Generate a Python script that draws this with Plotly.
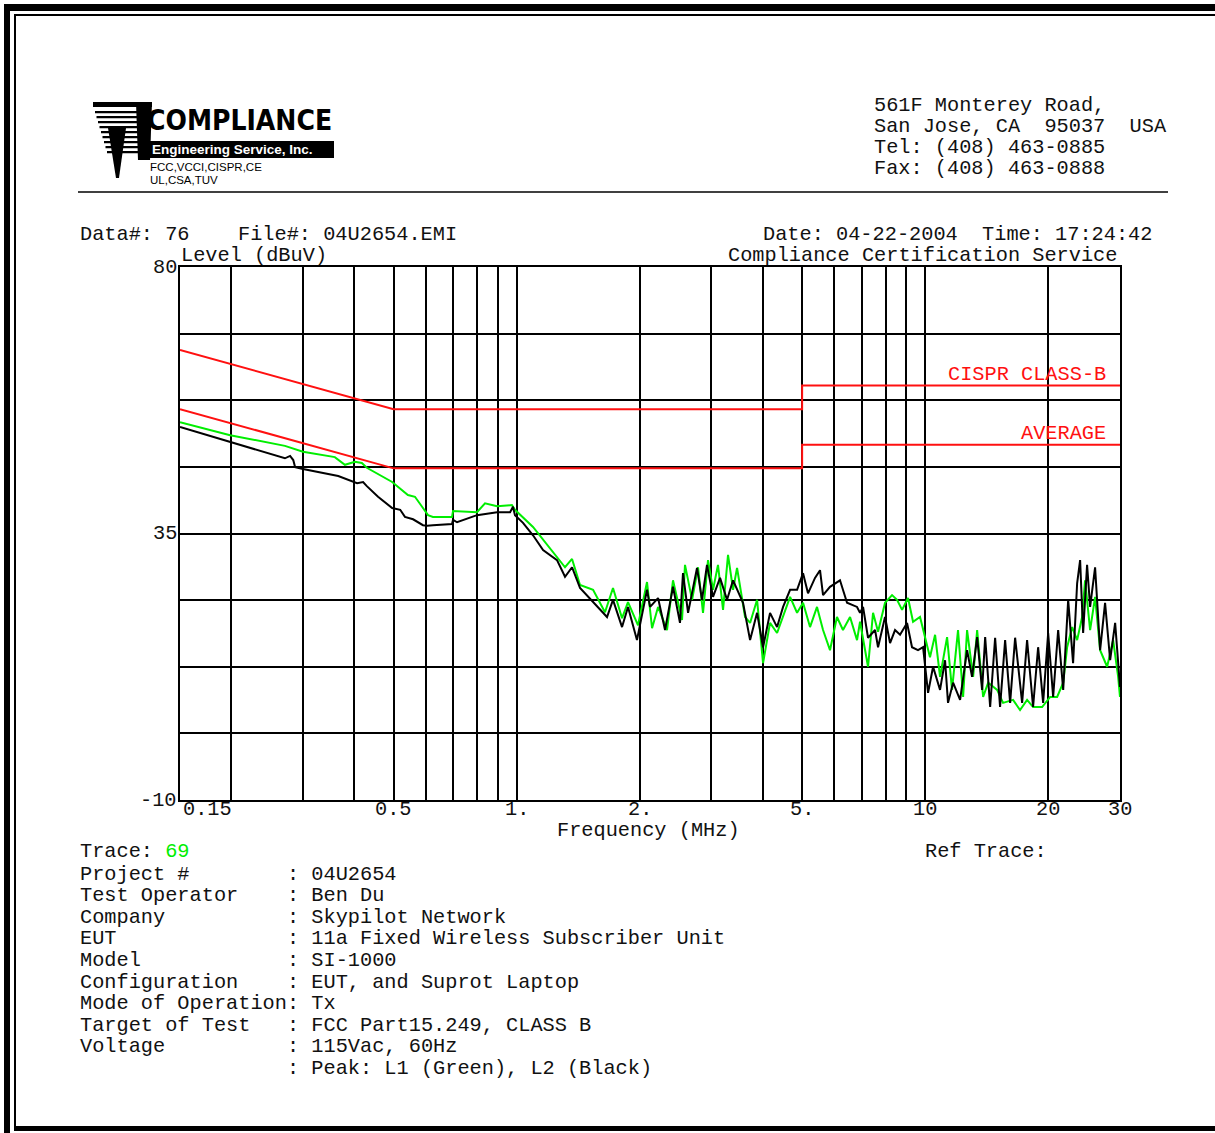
import math
import plotly.graph_objects as go

# ---------------- data ----------------
# L1 (green) peak trace: frequency (MHz) and level (dBuV)
l1_freq = [0.150, 0.199, 0.271, 0.300, 0.359, 0.380, 0.402, 0.418, 0.430, 0.496,
           0.542, 0.564, 0.590, 0.607, 0.624, 0.695, 0.699, 0.800, 0.837, 0.896,
           0.974, 0.991, 1.097, 1.161, 1.314, 1.367, 1.430, 1.539, 1.646, 1.722,
           1.812, 1.874, 1.983, 2.086, 2.146, 2.220, 2.335, 2.415, 2.541, 2.584,
           2.689, 2.781, 2.860, 2.942, 3.026, 3.112, 3.202, 3.293, 3.388, 3.465,
           3.625, 3.729, 3.879, 4.012, 4.173, 4.342, 4.672, 4.860, 5.026, 5.228,
           5.438, 5.626, 5.851, 6.085, 6.295, 6.551, 6.814, 6.930, 7.250, 7.458,
           7.671, 7.979, 8.301, 8.538, 8.783, 9.083, 9.344, 9.719, 10.00, 10.28,
           10.58, 10.88, 11.32, 11.64, 12.04, 12.39, 12.67, 13.11, 13.41, 13.87,
           14.27, 15.01, 15.52, 16.42, 17.08, 17.77, 18.38, 19.34, 20.24, 21.05,
           21.78, 22.27, 22.91, 23.56, 24.23, 24.64, 25.35, 26.07, 26.82, 27.90,
           28.86, 29.69, 30.00]
l1_level = [53.8, 51.6, 49.8, 48.8, 47.9, 46.6, 47.1, 46.9, 46.1, 43.7,
            41.5, 41.2, 39.3, 38.1, 37.8, 37.8, 38.8, 38.6, 40.1, 39.6,
            39.8, 39.0, 36.1, 33.9, 29.3, 30.7, 26.3, 25.5, 21.7, 25.8,
            20.7, 23.4, 19.5, 26.8, 19.0, 22.6, 18.7, 27.1, 20.4, 29.7,
            23.8, 29.3, 21.6, 30.5, 25.5, 29.7, 22.1, 31.4, 25.5, 29.2,
            20.9, 19.9, 23.8, 13.1, 19.9, 18.2, 24.3, 21.6, 23.3, 19.2,
            22.6, 18.7, 15.3, 20.9, 18.7, 20.9, 17.0, 20.1, 12.5, 21.6,
            18.4, 23.3, 24.6, 23.8, 22.1, 24.1, 20.1, 20.9, 17.5, 14.1,
            17.9, 10.8, 17.5, 8.6, 18.7, 7.4, 18.7, 10.8, 18.7, 7.4,
            9.8, 8.6, 6.4, 6.9, 5.2, 6.9, 5.7, 5.7, 7.4, 7.4,
            9.8, 15.8, 19.2, 17.0, 20.9, 27.1, 18.7, 24.3, 15.3, 12.5,
            17.0, 10.8, 7.4]

# L2 (black) peak trace
l2_freq = [0.150, 0.199, 0.271, 0.279, 0.284, 0.287, 0.300, 0.366, 0.396, 0.407,
           0.421, 0.430, 0.458, 0.496, 0.519, 0.533, 0.558, 0.590, 0.604, 0.624,
           0.695, 0.699, 0.715, 0.800, 0.896, 0.964, 0.980, 0.991, 1.037, 1.097,
           1.161, 1.256, 1.314, 1.367, 1.430, 1.539, 1.665, 1.722, 1.812, 1.874,
           1.971, 2.086, 2.122, 2.220, 2.309, 2.415, 2.512, 2.555, 2.629, 2.765,
           2.844, 2.925, 3.026, 3.148, 3.275, 3.388, 3.584, 3.729, 3.879, 4.012,
           4.173, 4.342, 4.491, 4.672, 4.860, 5.026, 5.169, 5.377, 5.531, 5.626,
           5.851, 6.190, 6.441, 6.814, 6.930, 7.049, 7.250, 7.543, 7.671, 7.979,
           8.208, 8.442, 8.684, 9.033, 9.290, 9.610, 9.886, 10.17, 10.46, 10.88,
           11.19, 11.38, 11.71, 12.18, 12.67, 13.03, 13.41, 13.79, 14.03, 14.43,
           14.84, 15.26, 15.70, 16.15, 16.61, 17.28, 17.77, 18.38, 18.91, 19.45,
           20.01, 20.58, 21.17, 21.78, 22.40, 23.03, 23.56, 23.96, 24.37, 24.92,
           25.35, 26.07, 26.82, 27.58, 28.38, 29.19, 30.00]
l2_level = [53.0, 50.5, 47.7, 48.1, 47.4, 46.2, 45.9, 44.7, 43.9, 43.5,
            43.7, 43.0, 41.2, 39.3, 39.0, 37.8, 37.4, 36.4, 36.3, 36.4,
            36.6, 37.3, 36.9, 38.1, 38.6, 38.6, 39.5, 38.1, 36.8, 34.7,
            32.2, 30.5, 27.7, 29.3, 25.8, 23.4, 20.9, 23.8, 19.2, 22.6,
            17.0, 25.5, 22.6, 24.1, 18.7, 26.0, 19.9, 28.3, 21.6, 29.2,
            23.8, 29.7, 24.3, 27.5, 23.8, 27.1, 23.3, 17.0, 21.6, 15.8,
            21.6, 19.2, 22.6, 25.5, 25.5, 28.3, 24.9, 27.5, 28.8, 24.6,
            26.0, 27.1, 23.3, 22.6, 21.6, 22.6, 17.4, 18.7, 15.8, 20.9,
            16.5, 18.7, 17.9, 19.9, 15.8, 15.3, 15.8, 8.1, 12.5, 8.6,
            13.6, 6.4, 9.8, 6.9, 15.3, 10.8, 17.5, 8.6, 17.5, 5.7,
            17.4, 5.7, 17.0, 6.4, 17.4, 6.4, 17.0, 5.7, 15.8, 6.4,
            18.2, 7.4, 18.7, 8.6, 23.8, 13.1, 26.6, 30.5, 18.2, 29.7,
            22.6, 29.3, 15.3, 23.3, 13.6, 19.9, 9.1]

# CISPR 22 class B limits
qp_freq = [0.15, 0.5, 5.0, 5.0, 30.0]
qp_level = [66, 56, 56, 60, 60]
avg_freq = [0.15, 0.5, 5.0, 5.0, 30.0]
avg_level = [56, 46, 46, 50, 50]

grid_freq = [0.15, 0.2, 0.3, 0.4, 0.5, 0.6, 0.7, 0.8, 0.9, 1, 2, 3, 4, 5,
             6, 7, 8, 9, 10, 20, 30]
xtick_vals = [0.5, 1, 2, 5, 10, 20, 30]
xtick_text = ["0.5", "1.", "2.", "5.", "10", "20", "30"]
ytick_vals = [80, 35, -10]
ytick_text = ["80", "35", "-10"]

info_labels = ["Project #", "Test Operator", "Company", "EUT", "Model",
               "Configuration", "Mode of Operation", "Target of Test", "Voltage", ""]
info_values = ["04U2654", "Ben Du", "Skypilot Network",
               "11a Fixed Wireless Subscriber Unit", "SI-1000",
               "EUT, and Suprot Laptop", "Tx", "FCC Part15.249, CLASS B",
               "115Vac, 60Hz", "Peak: L1 (Green), L2 (Black)"]
address_lines = ["561F Monterey Road,", "San Jose, CA  95037  USA",
                 "Tel: (408) 463-0885", "Fax: (408) 463-0888"]

# ---------------- figure ----------------
W, H = 1215, 1133
GREEN = "#00ee00"
RED = "#ff1010"
MONO = "Liberation Mono, Courier New, monospace"
FS = 20.3
TXT = "#111111"


def px(x):
    return x / W


def py(y):
    return 1 - y / H


def nb(s):
    return s.replace(" ", "\u00a0")


fig = go.Figure()
fig.add_trace(go.Scatter(x=qp_freq, y=qp_level, mode="lines",
                         line=dict(color=RED, width=2)))
fig.add_trace(go.Scatter(x=avg_freq, y=avg_level, mode="lines",
                         line=dict(color=RED, width=2)))
fig.add_trace(go.Scatter(x=l1_freq, y=l1_level, mode="lines",
                         line=dict(color=GREEN, width=2)))
fig.add_trace(go.Scatter(x=l2_freq, y=l2_level, mode="lines",
                         line=dict(color="black", width=2)))

ann = []


def text(x, y, s, anchor="left", color=TXT, size=FS, family=MONO, ref=("paper", "paper"), **kw):
    ann.append(dict(x=x, y=y, xref=ref[0], yref=ref[1], text=s, showarrow=False,
                    xanchor=anchor, yanchor="middle",
                    font=dict(family=family, size=size, color=color), **kw))


# header
for i, line in enumerate(address_lines):
    text(px(872), py(105 + i * 21.3), nb(line))
text(px(78), py(234), nb("Data#: 76"))
text(px(236), py(234), nb("File#: 04U2654.EMI"))
text(px(1154), py(234), nb("Date: 04-22-2004  Time: 17:24:42"), anchor="right")
text(px(179), py(255), nb("Level (dBuV)"))
text(px(1119), py(255), nb("Compliance Certification Service"), anchor="right")

# limit labels
text(px(1108), py(374), nb("CISPR CLASS-B"), anchor="right", color=RED)
text(px(1108), py(433), "AVERAGE", anchor="right", color=RED)

# axis tick labels
for v, t in zip(ytick_vals, ytick_text):
    text(px(179), v, t, anchor="right", ref=("paper", "y"))
text(math.log10(0.15), py(810), "0.15", anchor="left", ref=("x", "paper"), xshift=1)
for v, t in zip(xtick_vals, xtick_text):
    text(math.log10(v), py(810), t, anchor="center", ref=("x", "paper"))
text(px(648), py(831), nb("Frequency (MHz)"), anchor="center")

# footer
text(px(78), py(852), "Trace: <span style='color:%s'>69</span>" % GREEN)
text(px(923), py(852), nb("Ref Trace:"))
for i, (lab, val) in enumerate(zip(info_labels, info_values)):
    y = 874 + i * 21.6
    if lab:
        text(px(78), py(y), nb(lab))
    text(px(285), py(y), nb(": " + val))

# logo texts
text(px(145), py(121), "<b>COMPLIANCE</b>", color="black", size=28,
     family="Liberation Sans Narrow, DejaVu Sans Condensed, Arial Narrow, sans-serif")
text(px(150), py(150), "<b>Engineering Service, Inc.</b>", color="white", size=13.5,
     family="Liberation Sans, Arial, sans-serif")
text(px(148), py(167), "FCC,VCCI,CISPR,CE", color="black", size=11.5,
     family="Liberation Sans, Arial, sans-serif")
text(px(148), py(180), "UL,CSA,TUV", color="black", size=11.5,
     family="Liberation Sans, Arial, sans-serif")

shapes = []


def rect(x0, y0, x1, y1, color="black"):
    shapes.append(dict(type="rect", xref="paper", yref="paper",
                       x0=px(x0), x1=px(x1), y0=py(y1), y1=py(y0),
                       fillcolor=color, line=dict(width=0), layer="above"))


def poly(points, color="black"):
    path = "M " + " L ".join("%f,%f" % (px(a), py(b)) for a, b in points) + " Z"
    shapes.append(dict(type="path", xref="paper", yref="paper", path=path,
                       fillcolor=color, line=dict(width=0), layer="above"))


# page borders
rect(4, 4, 1215, 11)
rect(4, 4, 10, 1133)
rect(14, 14, 1215, 16)
rect(14, 14, 16, 1128)
rect(14, 1126, 1215, 1131)
# header rule
shapes.append(dict(type="line", xref="paper", yref="paper", x0=px(78), x1=px(1168),
                   y0=py(192), y1=py(192), line=dict(color="black", width=1.5)))

# logo graphic
rect(93, 102, 152, 107)
for k in range(9):
    y0 = 111 + k * 5
    rect(95 + k * 1.5, y0, 142, y0 + 2.2)
poly([(136, 102), (152, 102), (150, 160), (138, 160)])
poly([(108, 128), (126, 128), (119, 178), (116, 178)])
rect(148, 141, 334, 158)

fig.update_layout(
    width=W, height=H, margin=dict(l=0, r=0, t=0, b=0),
    paper_bgcolor="white", plot_bgcolor="white", showlegend=False,
    xaxis=dict(type="log", range=[math.log10(0.15), math.log10(30)],
               domain=[px(180), px(1120)], tickvals=grid_freq, showticklabels=False,
               showgrid=True, gridcolor="black", gridwidth=2, ticks="",
               showline=True, linecolor="black", linewidth=2, mirror=True, zeroline=False),
    yaxis=dict(range=[-10, 80], domain=[py(800), py(267)], tick0=-10, dtick=11.25,
               showticklabels=False, showgrid=True, gridcolor="black", gridwidth=2,
               ticks="", showline=True, linecolor="black", linewidth=2, mirror=True,
               zeroline=False),
    annotations=ann, shapes=shapes,
)

fig.write_html("out.html", config={"displayModeBar": False},
               post_script="document.body.style.margin='0px';")
